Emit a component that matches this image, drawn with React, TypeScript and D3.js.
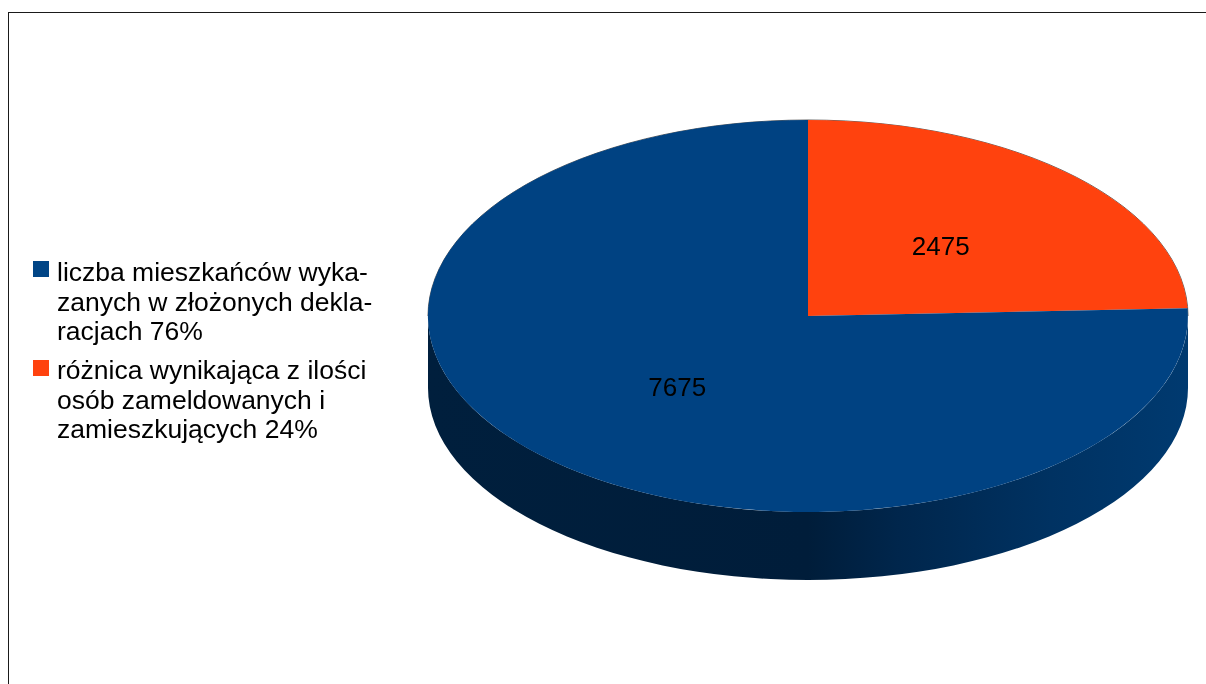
import { useEffect, useRef } from 'react';
import * as d3 from 'd3';

const sliceNames = ['roznica', 'liczba'];
const sliceValues = [2475, 7675];
const sliceColors = ['#ff420e', '#004282'];
const legendLines = [
  ['liczba mieszkańców wyka-', 'zanych w złożonych dekla-', 'racjach 76%'],
  ['różnica wynikająca z ilości', 'osób zameldowanych i', 'zamieszkujących 24%'],
];
const legendColors = ['#004586', '#ff420e'];
const sideStops = [
  { at: '0%', c: '#001f3d' },
  { at: '50%', c: '#001d3a' },
  { at: '62%', c: '#00264c' },
  { at: '82%', c: '#003262' },
  { at: '100%', c: '#003a70' },
];

export default function App() {
  const ref = useRef<SVGSVGElement | null>(null);
  useEffect(() => {
    const svg = d3.select(ref.current!);
    svg.selectAll('*').remove();
    const cx = 808, cy = 316, rx = 380, ry = 196;
    const wallCy = 388, wallRy = 192;
    const font = '"Liberation Sans", Arial, sans-serif';

    svg.append('rect').attr('x', 8.5).attr('y', 12.5).attr('width', 1300).attr('height', 800)
      .attr('fill', '#fff').attr('stroke', '#1a1a1a').attr('stroke-width', 1);

    const defs = svg.append('defs');
    const grad = defs.append('linearGradient').attr('id', 'side')
      .attr('x1', '0%').attr('x2', '100%').attr('y1', '0%').attr('y2', '0%');
    sideStops.forEach((s) => grad.append('stop').attr('offset', s.at).attr('stop-color', s.c));
    defs.append('filter').attr('id', 'soft').append('feGaussianBlur').attr('stdDeviation', 0.35);

    // wall of the disc, then the top face on it
    const wallD = `M${cx - rx},${cy} L${cx - rx},${wallCy} A${rx},${wallRy} 0 0 0 ${cx + rx},${wallCy} L${cx + rx},${cy} A${rx},${ry} 0 0 1 ${cx - rx},${cy} Z`;
    svg.append('path').attr('d', wallD).attr('fill', 'url(#side)');
    svg.append('path').attr('d', `M${cx - rx},${cy} A${rx},${ry} 0 0 1 ${cx + rx},${cy}`)
      .attr('fill', 'none').attr('stroke', '#3a3a3a').attr('stroke-width', 0.8);

    const pie = d3.pie<number>().sort(null).value((d) => d);
    const arc = d3.arc<d3.PieArcDatum<number>>().innerRadius(0).outerRadius(1);
    const arcs = pie(sliceValues);
    svg.append('g').attr('transform', `translate(${cx},${cy}) scale(${rx},${ry})`)
      .selectAll('path').data(arcs).enter().append('path')
      .attr('d', (d) => arc(d))
      .attr('data-name', (_, i) => sliceNames[i])
      .attr('fill', (_, i) => sliceColors[i]);

    svg.selectAll('text.value').data(arcs).enter().append('text').attr('class', 'value')
      .attr('x', (d) => cx + arc.centroid(d)[0] * rx + 1)
      .attr('y', (d) => cy + arc.centroid(d)[1] * ry + 9.5)
      .attr('text-anchor', 'middle').attr('font-family', font).attr('font-size', 26).attr('fill', '#000')
      .attr('filter', 'url(#soft)')
      .text((d) => String(d.value));

    const legendTop = [261, 360];
    const legendBase = [281, 379];
    legendLines.forEach((lines, i) => {
      svg.append('rect').attr('x', 33).attr('y', legendTop[i]).attr('width', 16).attr('height', 16).attr('fill', legendColors[i]);
      lines.forEach((t, j) => {
        svg.append('text').attr('x', 57).attr('y', legendBase[i] + j * 29.5)
          .attr('font-family', font).attr('font-size', 26.5).attr('fill', '#000')
          .attr('filter', 'url(#soft)').text(t);
      });
    });
  }, []);
  return <svg ref={ref} width={1206} height={684} style={{ position: 'fixed', left: 0, top: 0, display: 'block' }} />;
}
